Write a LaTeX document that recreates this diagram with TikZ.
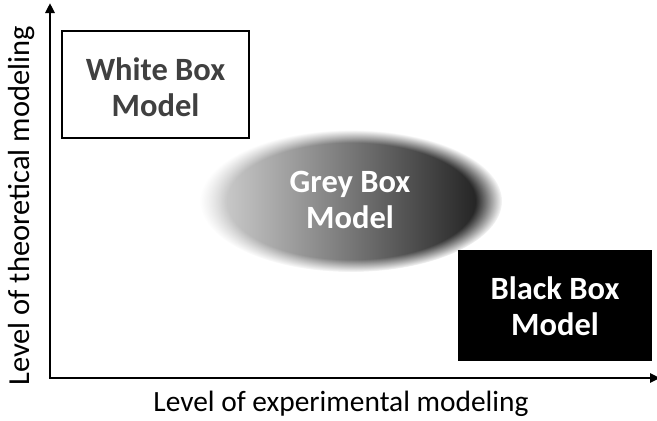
\documentclass[tikz,border=0pt]{standalone}
\usepackage{fontspec}
\setmainfont{Carlito}
\usetikzlibrary{arrows.meta,fadings}
\pgfdeclareradialshading{fuzzysh}{\pgfpointorigin}{color(0bp)=(white); color(20.5bp)=(white); color(25bp)=(black); color(50bp)=(black)}
\pgfdeclarefading{fuzzy}{\pgfuseshading{fuzzysh}}
\tikzset{
  axis/.style={line width=2.5pt,-{Triangle[length=10pt,width=9pt]}},
  boxtext/.style={align=center,font=\fontsize{32.5}{36}\selectfont\bfseries},
}
\begin{document}
\begin{tikzpicture}[x=1pt,y=1pt]
\useasboundingbox (0,0) rectangle (657,-421);
\coordinate (O) at (50,-378);
\coordinate (Ox) at (48.75,-378);
\coordinate (ytop) at (50,-3);
\coordinate (xend) at (660,-378);
\draw[axis] (O) -- (ytop);
\draw[axis] (Ox) -- (xend);
\shade[left color=black!15, right color=black!92, path fading=fuzzy, fit fading=true]
  (351,-201) ellipse [x radius=151, y radius=71];
\node[draw=black, line width=2pt, minimum width=187pt, minimum height=107pt] (white) at (155.5,-84.5) {};
\node[boxtext, text=black!75] (wtext) at (155.5,-87) {White Box\\Model};
\node[boxtext, text=white] (grey) at (350,-200) {Grey Box\\Model};
\node[fill=black, minimum width=194pt, minimum height=111pt] (black) at (555,-305.5) {};
\node[boxtext, text=white] (btext) at (555,-306.5) {Black Box\\Model};
\node[font=\fontsize{29.4}{34}\selectfont] (xlab) at (341,-404) {Level of experimental modeling};
\node[font=\fontsize{30.5}{35}\selectfont, rotate=90] (ylab) at (22,-206) {Level of theoretical modeling};
\end{tikzpicture}
\end{document}
